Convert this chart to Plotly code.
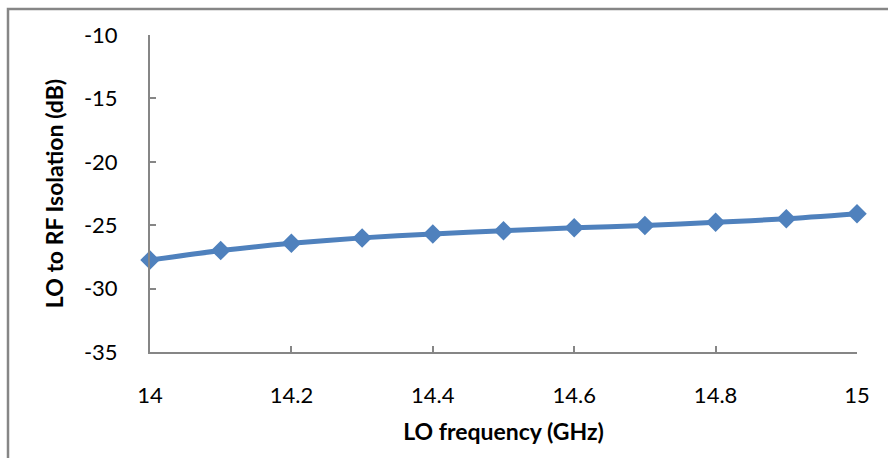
import plotly.graph_objects as go

# LO frequency sweep (GHz) and measured LO-to-RF isolation (dB)
lo_freq_ghz = [14.0, 14.1, 14.2, 14.3, 14.4, 14.5, 14.6, 14.7, 14.8, 14.9, 15.0]
isolation_db = [-27.75, -27.0, -26.43, -26.0, -25.69, -25.43, -25.2, -25.03, -24.77, -24.5, -24.1]

x_ticks = [14.0, 14.2, 14.4, 14.6, 14.8, 15.0]
x_tick_text = ["14", "14.2", "14.4", "14.6", "14.8", "15"]
y_ticks = [-35, -30, -25, -20, -15, -10]
y_tick_text = ["-35", "-30", "-25", "-20", "-15", "-10"]

BLUE = "#4F81BD"
GRAY = "#868686"
FONT = "Lato"

fig = go.Figure()
fig.add_trace(go.Scatter(
    x=lo_freq_ghz,
    y=isolation_db,
    mode="lines+markers",
    line=dict(color=BLUE, width=5, shape="spline", smoothing=0.6),
    marker=dict(symbol="diamond", size=15, color=BLUE),
    showlegend=False,
    cliponaxis=False,
))

fig.update_layout(
    width=888,
    height=458,
    margin=dict(l=150, r=31, t=35, b=106),
    paper_bgcolor="white",
    plot_bgcolor="white",
    font=dict(family=FONT, size=22, color="black"),
    xaxis=dict(
        range=[14, 15],
        tickvals=x_ticks,
        ticktext=x_tick_text,
        showgrid=False,
        zeroline=False,
        showline=True,
        linecolor=GRAY,
        linewidth=2,
        ticks="inside",
        ticklen=6,
        tickwidth=2,
        tickcolor=GRAY,
        ticklabelstandoff=23,
        title=dict(text="<b>LO frequency (GHz)</b>", font=dict(size=23), standoff=16),
    ),
    yaxis=dict(
        range=[-35, -10],
        tickvals=y_ticks,
        ticktext=y_tick_text,
        showgrid=False,
        zeroline=False,
        showline=True,
        linecolor=GRAY,
        linewidth=2,
        ticks="inside",
        ticklen=6,
        tickwidth=2,
        tickcolor=GRAY,
        ticklabelstandoff=26,
        title=dict(text="<b>LO to RF Isolation (dB)</b>", font=dict(size=23), standoff=14),
    ),
    shapes=[dict(
        type="rect", xref="paper", yref="paper",
        x0=(8 - 150) / 707, x1=(900 - 150) / 707,
        y0=(352 - 470) / 317, y1=(352 - 9) / 317,
        line=dict(color=GRAY, width=2.5),
        fillcolor="rgba(0,0,0,0)",
        layer="below",
    )],
)

fig.write_html("out.html")
